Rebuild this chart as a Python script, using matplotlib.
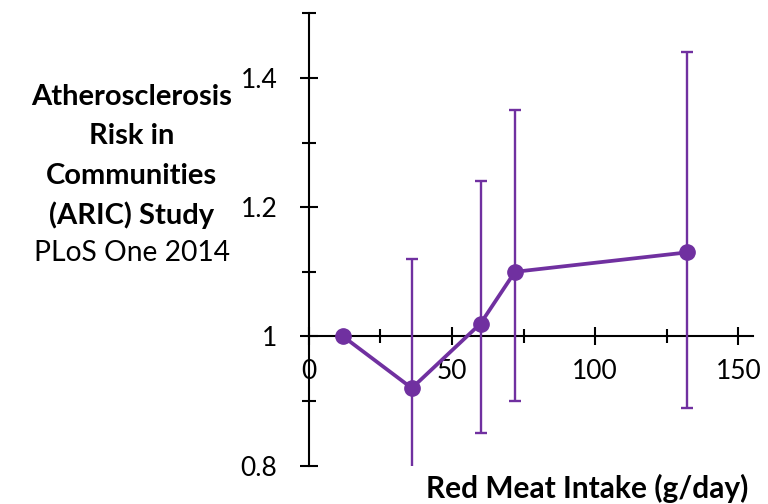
import numpy as np
import matplotlib
matplotlib.use('Agg')
import matplotlib.pyplot as plt
from matplotlib.ticker import MultipleLocator

# Red meat intake vs relative risk (ARIC study)
intake = [12, 36, 60, 72, 132]
risk = [1.00, 0.92, 1.02, 1.10, 1.13]
ci_low = [np.nan, 0.78, 0.85, 0.90, 0.89]
ci_high = [np.nan, 1.12, 1.24, 1.35, 1.44]

title_lines = ['Atherosclerosis', 'Risk in', 'Communities', '(ARIC) Study']
subtitle = 'PLoS One 2014'
xlabel = 'Red Meat Intake (g/day)'

purple = '#7030A0'
plt.rcParams['font.family'] = ['Lato', 'DejaVu Sans']

fig = plt.figure(figsize=(7.68, 5.04), dpi=100)
ax = fig.add_axes([0.402, 0.076, 0.578, 0.8976])

x = np.array(intake)
y = np.array(risk)
lo = np.array(ci_low)
hi = np.array(ci_high)
m = ~np.isnan(lo)
ax.errorbar(x[m], y[m], yerr=[y[m] - lo[m], hi[m] - y[m]], fmt='none',
            ecolor=purple, elinewidth=1.7, capsize=4.5, capthick=1.7, zorder=3)
ax.plot(x, y, '-o', color=purple, lw=2.7, markersize=11, zorder=4)

ax.set_xlim(0, 155)
ax.set_ylim(0.8, 1.5)
ax.spines['left'].set_position(('data', 0))
ax.spines['bottom'].set_position(('data', 1))
ax.spines['right'].set_visible(False)
ax.spines['top'].set_visible(False)
for s in ['left', 'bottom']:
    ax.spines[s].set_linewidth(1.5)

ax.xaxis.set_major_locator(MultipleLocator(50))
ax.xaxis.set_minor_locator(MultipleLocator(25))
ax.yaxis.set_minor_locator(MultipleLocator(0.1))
ax.set_yticks([0.8, 1.0, 1.2, 1.4])
ax.set_yticklabels(['0.8', '1', '1.2', '1.4'])
ax.tick_params(which='major', direction='inout', length=13, width=1.5,
               labelsize=19)
ax.tick_params(which='minor', direction='inout', length=10, width=1.5)
ax.tick_params(axis='y', which='both', pad=16)
ax.tick_params(axis='x', which='both', pad=10)
ax.patch.set_visible(False)

cx = 131.5 / 768
for i, line in enumerate(title_lines):
    fig.text(cx, 1 - (96.7 + 39.5 * i) / 504, line, ha='center', va='center',
             fontsize=21, fontweight='bold')
fig.text(cx, 1 - 253 / 504, subtitle, ha='center', va='center', fontsize=20.3)
fig.text(587 / 768, 1 - 488 / 504, xlabel, ha='center', va='center',
         fontsize=21.5, fontweight='bold')

fig.savefig('out.png', dpi=100)
